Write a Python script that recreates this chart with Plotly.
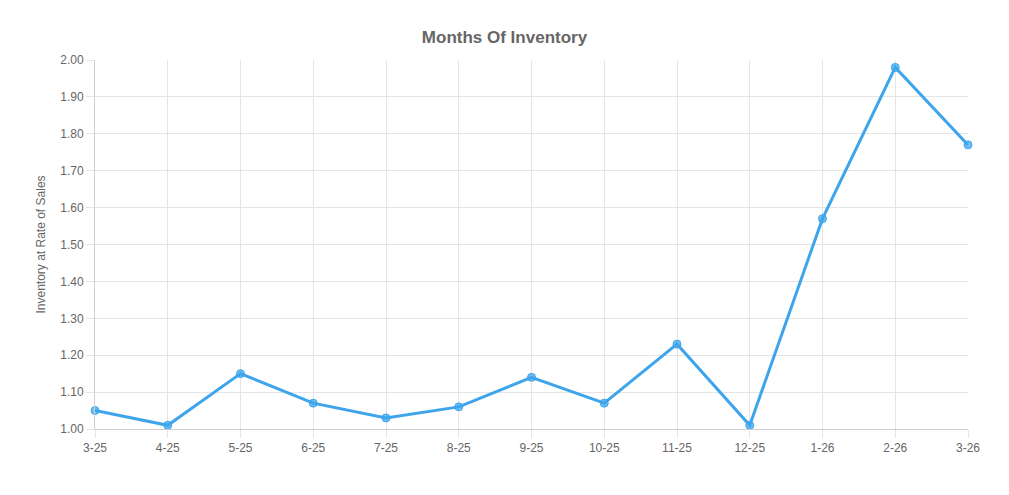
import plotly.graph_objects as go

months = ["3-25", "4-25", "5-25", "6-25", "7-25", "8-25", "9-25", "10-25", "11-25", "12-25", "1-26", "2-26", "3-26"]
inventory = [1.05, 1.01, 1.15, 1.07, 1.03, 1.06, 1.14, 1.07, 1.23, 1.01, 1.57, 1.98, 1.77]
y_ticks = [1.00, 1.10, 1.20, 1.30, 1.40, 1.50, 1.60, 1.70, 1.80, 1.90, 2.00]

fig = go.Figure()
fig.add_trace(go.Scatter(
    x=months, y=inventory, mode="lines+markers",
    line=dict(color="#3ea5ec", width=3),
    marker=dict(size=8, color="rgba(62,165,236,0.75)", line=dict(color="#3ea5ec", width=1)),
    hoverinfo="x+y", cliponaxis=False,
))

grid = "#e5e5e5"
fig.update_layout(
    width=1009, height=495,
    margin=dict(l=95, r=41, t=60, b=66),
    paper_bgcolor="white", plot_bgcolor="white",
    font=dict(family="Liberation Sans, Arial, sans-serif", color="#666666", size=12),
    title=dict(text="<b>Months Of Inventory</b>", x=0.5, xanchor="center", y=0.925, yanchor="middle",
               font=dict(size=17, color="#666666")),
    showlegend=False,
    xaxis=dict(
        type="category", range=[0, len(months) - 1],
        showgrid=True, gridcolor=grid, gridwidth=1,
        ticks="outside", ticklen=8, tickcolor=grid,
        showline=True, linecolor="#cfcfcf", linewidth=1, mirror=False,
        tickfont=dict(size=12, color="#666666"),
        zeroline=False,
    ),
    yaxis=dict(
        range=[1.0, 2.0], tickvals=y_ticks, tickformat=".2f",
        showgrid=True, gridcolor=grid, gridwidth=1,
        ticks="outside", ticklen=8, tickcolor=grid,
        showline=True, linecolor="#cfcfcf", linewidth=1,
        tickfont=dict(size=12, color="#666666"),
        title=dict(text="Inventory at Rate of Sales", font=dict(size=12, color="#666666"), standoff=12),
        zeroline=False,
    ),
)
fig.write_html("out.html")
